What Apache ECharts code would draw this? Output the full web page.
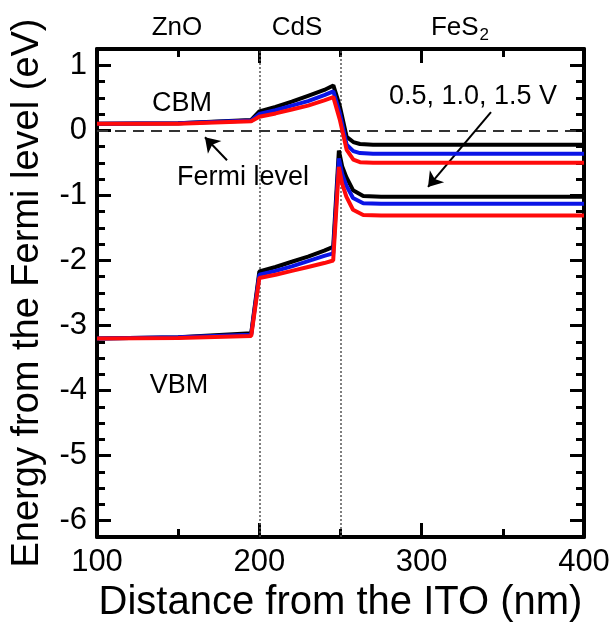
<!DOCTYPE html>
<html>
<head>
<meta charset="utf-8">
<script src="https://cdn.jsdelivr.net/npm/echarts@6/dist/echarts.min.js"></script>
<style>
  html, body { margin: 0; padding: 0; background: #fff; }
  #chart { width: 616px; height: 624px; }
</style>
</head>
<body>
<div id="chart"></div>
<script>
// distance from ITO (nm)
const cbmX = [100, 150, 195, 200, 210, 220, 230, 240, 245.6, 249.7, 253.8, 257.9, 262, 270, 400];
const cbm05 = [0.1, 0.11, 0.16, 0.29, 0.36, 0.44, 0.53, 0.62, 0.69, 0.36, -0.1, -0.18, -0.21, -0.22, -0.22];
const cbm10 = [0.1, 0.11, 0.15, 0.25, 0.31, 0.38, 0.45, 0.54, 0.6, 0.25, -0.22, -0.32, -0.35, -0.36, -0.36];
const cbm15 = [0.1, 0.1, 0.14, 0.21, 0.26, 0.32, 0.38, 0.46, 0.51, 0.15, -0.3, -0.45, -0.49, -0.5, -0.5];

const vbmX = [100, 150, 195, 200, 210, 220, 230, 240, 245.5, 249, 251, 253.6, 257.7, 264, 275, 400];
const vbm05 = [-3.2, -3.18, -3.12, -2.17, -2.1, -2.02, -1.94, -1.85, -1.79, -0.31, -0.55, -0.72, -0.92, -1.01, -1.02, -1.02];
const vbm10 = [-3.2, -3.18, -3.14, -2.22, -2.16, -2.09, -2.01, -1.93, -1.89, -0.43, -0.67, -0.85, -1.04, -1.12, -1.13, -1.13];
const vbm15 = [-3.2, -3.19, -3.16, -2.27, -2.22, -2.16, -2.1, -2.04, -2.0, -0.56, -0.82, -1.02, -1.22, -1.3, -1.31, -1.31];

const yLabels = [-6, -5, -4, -3, -2, -1, 0, 1];
const layerBounds = [200, 250];

const FONT = 'Liberation Sans, Arial, sans-serif';
const colors = ['#000000', '#0a14e6', '#ff0a0a'];

const pair = (xs, ys) => xs.map((x, i) => [x, ys[i]]);

const lineSeries = (data, color) => ({
  type: 'line',
  data: data,
  xAxisIndex: 0,
  yAxisIndex: 0,
  showSymbol: false,
  symbol: 'none',
  lineStyle: { color: color, width: 4 },
  z: 5
});

const yAxisBase = (pos, major, labels) => ({
  type: 'value',
  position: pos,
  min: -6.25,
  max: 1.25,
  interval: 0.25,
  splitLine: { show: false },
  axisLine: { show: !major, onZero: false, lineStyle: { color: '#000', width: 4 } },
  axisTick: major
    ? { inside: true, length: 14, customValues: yLabels, lineStyle: { color: '#000', width: 3 } }
    : { inside: true, length: 8, lineStyle: { color: '#000', width: 3 } },
  axisLabel: labels
    ? { customValues: yLabels, fontSize: 31, color: '#000', fontFamily: FONT, margin: 10 }
    : { show: false }
});

const option = {
  animation: false,
  backgroundColor: '#fff',
  grid: { left: 97, right: 32, top: 49, bottom: 87, outerBoundsMode: 'none' },
  xAxis: [
    {
      type: 'value', position: 'bottom', min: 100, max: 400, interval: 100,
      splitLine: { show: false },
      axisLine: { onZero: false, lineStyle: { color: '#000', width: 4 } },
      axisTick: { inside: true, length: 14, lineStyle: { color: '#000', width: 3 } },
      minorTick: { show: true, splitNumber: 2, length: 8, lineStyle: { color: '#000', width: 3 } },
      axisLabel: { fontSize: 31, color: '#000', fontFamily: FONT, margin: 10 },
      name: 'Distance from the ITO (nm)',
      nameLocation: 'middle', nameGap: 42,
      nameTextStyle: { fontSize: 40, color: '#000', fontFamily: FONT }
    },
    {
      type: 'value', position: 'top', min: 100, max: 400, interval: 100,
      splitLine: { show: false },
      axisLine: { onZero: false, lineStyle: { color: '#000', width: 4 } },
      axisTick: { inside: true, length: 14, lineStyle: { color: '#000', width: 3 } },
      minorTick: { show: true, splitNumber: 2, length: 8, lineStyle: { color: '#000', width: 3 } },
      axisLabel: { show: false }
    }
  ],
  yAxis: [
    Object.assign(yAxisBase('left', false, true), {
      name: 'Energy from the Fermi level (eV)',
      nameLocation: 'middle', nameGap: 50,
      nameTextStyle: { fontSize: 38, color: '#000', fontFamily: FONT }
    }),
    yAxisBase('left', true, false),
    yAxisBase('right', false, false),
    yAxisBase('right', true, false)
  ],
  series: [
    Object.assign(lineSeries(pair(cbmX, cbm05), colors[0]), {
      markLine: {
        silent: true,
        symbol: 'none',
        label: { show: false },
        data: [
          { xAxis: layerBounds[0], lineStyle: { color: '#555', width: 1.5, type: [2, 2] } },
          { xAxis: layerBounds[1], lineStyle: { color: '#555', width: 1.5, type: [2, 2] } },
          { yAxis: 0, lineStyle: { color: '#333', width: 2, type: [11, 7] } }
        ]
      }
    }),
    lineSeries(pair(cbmX, cbm10), colors[1]),
    lineSeries(pair(cbmX, cbm15), colors[2]),
    Object.assign(lineSeries(pair(vbmX, vbm05), colors[0]), {
      markLine: {
        silent: true,
        symbol: ['none', 'arrow'],
        symbolSize: 14,
        label: { show: false },
        lineStyle: { color: '#000', width: 2, type: 'solid' },
        data: [
          [{ coord: [180.1, -0.46] }, { coord: [166.5, -0.107] }],
          [{ coord: [342.7, 0.28] }, { coord: [303.9, -0.87] }]
        ]
      }
    }),
    lineSeries(pair(vbmX, vbm10), colors[1]),
    lineSeries(pair(vbmX, vbm15), colors[2])
  ],
  graphic: [
    { type: 'text', x: 177, y: 28, style: { text: 'ZnO', font: '26px ' + FONT, fill: '#000', textAlign: 'center', textVerticalAlign: 'middle' } },
    { type: 'text', x: 297, y: 28, style: { text: 'CdS', font: '26px ' + FONT, fill: '#000', textAlign: 'center', textVerticalAlign: 'middle' } },
    { type: 'text', x: 460, y: 28, style: {
        text: '{a|FeS}{b|2}', textAlign: 'center', textVerticalAlign: 'middle',
        rich: {
          a: { fontSize: 26, fontFamily: FONT, fill: '#000', color: '#000' },
          b: { fontSize: 17, fontFamily: FONT, fill: '#000', color: '#000', padding: [14, 0, 0, 1] }
        }
      } },
    { type: 'text', x: 182, y: 104, style: { text: 'CBM', font: '27px ' + FONT, fill: '#000', textAlign: 'center', textVerticalAlign: 'middle' } },
    { type: 'text', x: 243, y: 178, style: { text: 'Fermi level', font: '27px ' + FONT, fill: '#000', textAlign: 'center', textVerticalAlign: 'middle' } },
    { type: 'text', x: 179, y: 386, style: { text: 'VBM', font: '27px ' + FONT, fill: '#000', textAlign: 'center', textVerticalAlign: 'middle' } },
    { type: 'text', x: 473, y: 97, style: { text: '0.5, 1.0, 1.5 V', font: '27px ' + FONT, fill: '#000', textAlign: 'center', textVerticalAlign: 'middle' } }
  ]
};

const myChart = echarts.init(document.getElementById('chart'), null, { renderer: 'canvas' });
option && myChart.setOption(option);
</script>
</body>
</html>
